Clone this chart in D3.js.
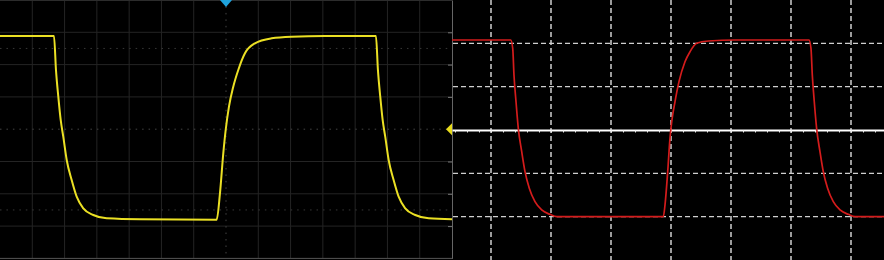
<!DOCTYPE html>
<html>
<head>
<meta charset="utf-8">
<script src="https://cdn.jsdelivr.net/npm/d3@7"></script>
<style>
  body { margin: 0; background: #000; }
  svg { display: block; }
</style>
</head>
<body>
<div id="scope"></div>
<script>
// yellow channel, left screen: [time div, volts div]
var yellowTrace = [
    [0, 2.885], [1.672, 2.885], [1.734, 1.83], [1.806, 1.006], [1.880, 0.285],
    [1.960, -0.232], [2.066, -0.954], [2.220, -1.573], [2.375, -2.090], [2.580, -2.449],
    [2.889, -2.656], [3.304, -2.759], [4.336, -2.789], [6.711, -2.80], [6.813, -1.985],
    [6.916, -0.746], [6.990, -0.025], [7.092, 0.697], [7.225, 1.316], [7.380, 1.833],
    [7.587, 2.350], [7.897, 2.659], [8.414, 2.814], [9.034, 2.864], [10.065, 2.885],
    [11.644, 2.885], [11.706, 1.83], [11.778, 1.006], [11.852, 0.285], [11.932, -0.232],
    [12.038, -0.954], [12.192, -1.573], [12.347, -2.09], [12.552, -2.449], [12.862, -2.656],
    [13.276, -2.759], [14, -2.789]
];
// red channel, right screen
var redTrace = [
    [-0.65, 2.077], [0.328, 2.077], [0.362, 1.885], [0.383, 1.269], [0.417, 0.653],
    [0.455, 0.039], [0.512, -0.501], [0.567, -0.962], [0.638, -1.346], [0.733, -1.655],
    [0.845, -1.846], [0.983, -1.946], [1.095, -2.0], [1.483, -2.0], [2.872, -2.0],
    [2.900, -1.731], [2.945, -0.962], [2.983, -0.192], [3.012, 0.192], [3.067, 0.653],
    [3.133, 1.115], [3.233, 1.576], [3.317, 1.807], [3.428, 2.001], [3.622, 2.054],
    [4.067, 2.077], [5.300, 2.077], [5.333, 1.885], [5.355, 1.269], [5.388, 0.653],
    [5.427, 0.039], [5.483, -0.501], [5.538, -0.962], [5.610, -1.346], [5.705, -1.655],
    [5.817, -1.846], [5.955, -1.946], [6.067, -2.0], [6.55, -2.0]
];

var leftGridX = [1, 2, 3, 4, 5, 6, 8, 9, 10, 11, 12, 13];
var leftGridY = [-3, -2, -1, 1, 2, 3];
var leftDotY = [-2.5, 2.5];
var rightGridX = [0, 1, 2, 3, 4, 5, 6];
var rightGridY = [-2, -1, 1, 2];

var width = 884,
    height = 260;

var svg = d3.select("#scope")
    .append("svg")
    .attr("width", width)
    .attr("height", height);

svg.append("rect").attr("width", width).attr("height", height).attr("fill", "#000");

var xL = d3.scaleLinear().domain([0, 14]).range([0, 452]);
var yL = d3.scaleLinear().domain([-4, 4]).range([258.4, 0]);
var xR = d3.scaleLinear().domain([-0.65, 6.55]).range([452, 884]);
var yR = d3.scaleLinear().domain([-3, 3]).range([260, 0]);

/* left screen grid */
var left = svg.append("g");
left.selectAll(".gx").data(leftGridX).enter().append("line")
    .attr("x1", d => xL(d)).attr("x2", d => xL(d))
    .attr("y1", 0).attr("y2", yL(-4))
    .attr("stroke", "#242424").attr("stroke-width", 1);
left.selectAll(".gy").data(leftGridY).enter().append("line")
    .attr("x1", 0).attr("x2", xL(14))
    .attr("y1", d => yL(d)).attr("y2", d => yL(d))
    .attr("stroke", "#242424").attr("stroke-width", 1);
left.selectAll(".dy").data(leftDotY).enter().append("line")
    .attr("x1", 0).attr("x2", xL(14))
    .attr("y1", d => yL(d)).attr("y2", d => yL(d))
    .attr("stroke", "#383838").attr("stroke-width", 1)
    .attr("stroke-dasharray", "1.5,4.96");
// centre lines, dotted
left.append("line")
    .attr("x1", 0).attr("x2", xL(14)).attr("y1", yL(0)).attr("y2", yL(0))
    .attr("stroke", "#444").attr("stroke-dasharray", "1.5,4.96");
left.append("line")
    .attr("x1", xL(7)).attr("x2", xL(7)).attr("y1", 0).attr("y2", yL(-4))
    .attr("stroke", "#444").attr("stroke-dasharray", "1.5,4.96");

/* right screen grid */
var right = svg.append("g");
right.selectAll(".rx").data(rightGridX).enter().append("line")
    .attr("x1", d => xR(d)).attr("x2", d => xR(d))
    .attr("y1", 0).attr("y2", height)
    .attr("stroke", "#cfcfcf").attr("stroke-width", 1.5)
    .attr("stroke-dasharray", "5,3");
right.selectAll(".ry").data(rightGridY).enter().append("line")
    .attr("x1", 453).attr("x2", width)
    .attr("y1", d => yR(d)).attr("y2", d => yR(d))
    .attr("stroke", "#cfcfcf").attr("stroke-width", 1.2)
    .attr("stroke-dasharray", "5,3");

// white centre axis with small ticks
var centreAxis = d3.axisBottom(xR)
    .tickValues(d3.range(-0.6, 6.55, 0.2))
    .tickSize(2.5).tickSizeOuter(0).tickFormat("");
var ca = right.append("g")
    .attr("transform", `translate(0,${yR(0)})`)
    .call(centreAxis);
ca.select(".domain").attr("stroke", "#fff").attr("stroke-width", 1.8);
ca.selectAll(".tick line").attr("stroke", "#eee").attr("stroke-width", 1);

/* traces */
var lineL = d3.line().x(d => xL(d[0])).y(d => yL(d[1])).curve(d3.curveMonotoneX);
var lineR = d3.line().x(d => xR(d[0])).y(d => yR(d[1])).curve(d3.curveMonotoneX);

left.append("path")
    .datum(yellowTrace)
    .attr("d", lineL)
    .attr("fill", "none")
    .attr("stroke", "#ebe024")
    .attr("stroke-width", 2);

right.append("path")
    .datum(redTrace)
    .attr("d", lineR)
    .attr("fill", "none")
    .attr("stroke", "#d41c1c")
    .attr("stroke-width", 1.7);

/* left screen frame */
left.append("line")
    .attr("x1", 0).attr("x2", xL(14)).attr("y1", 0.5).attr("y2", 0.5)
    .attr("stroke", "#2c2c2c");
left.append("line")
    .attr("x1", 0).attr("x2", xL(14)).attr("y1", yL(-4)).attr("y2", yL(-4))
    .attr("stroke", "#555");
var edgeAxis = d3.axisLeft(yL).tickValues(d3.range(-3, 4, 1)).tickSize(4).tickSizeOuter(0).tickFormat("");
var ea = left.append("g")
    .attr("transform", `translate(${xL(14)},0)`)
    .call(edgeAxis);
ea.select(".domain").attr("stroke", "#666");
ea.selectAll(".tick line").attr("stroke", "#777");

// trigger position marker (blue) and channel level marker (yellow)
svg.append("path")
    .attr("d", d3.line()([[xL(7) - 6, 0], [xL(7) + 6, 0], [xL(7), 7]]) + "Z")
    .attr("fill", "#1fa3dd");
svg.append("path")
    .attr("d", d3.line()([[xL(14), yL(0) - 6], [xL(14), yL(0) + 6], [xL(14) - 6, yL(0)]]) + "Z")
    .attr("fill", "#e8dc1c");
</script>
</body>
</html>
